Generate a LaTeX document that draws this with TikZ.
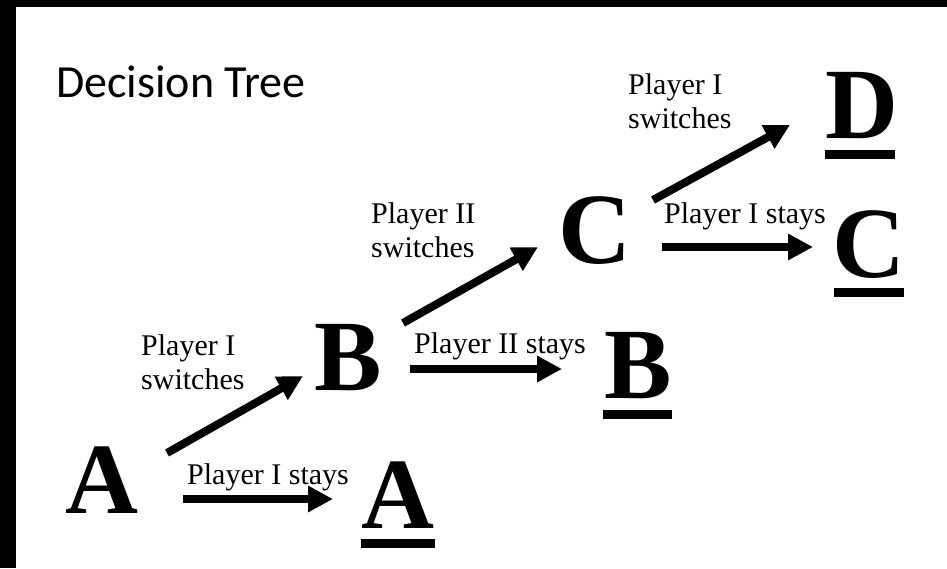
\documentclass[tikz,border=0pt]{standalone}
\usepackage{fontspec}
\setmainfont{Liberation Serif}
\newfontfamily\titlefont{Carlito}
\usetikzlibrary{arrows.meta}
\begin{document}
\begin{tikzpicture}[x=1pt,y=-1pt,
  big/.style={font=\fontsize{101}{101}\selectfont\bfseries, inner sep=0pt, anchor=base},
  lbl/.style={font=\fontsize{30}{34}\selectfont, inner sep=0pt, anchor=base west},
  arr/.style={line width=8pt, -{Triangle[length=25pt,width=25pt]}},
  uline/.style={line width=9pt}]
\fill[black] (0,0) rectangle (947,568);
\fill[white] (16,7) rectangle (947,568);
\useasboundingbox (0,0) rectangle (947,568);
% title
\node[font=\titlefont\fontsize{46}{46}\selectfont, inner sep=0pt, anchor=base west] (title) at (56,97) {Decision Tree};
% letters
\node[big] (A)  at (102,513) {A};
\node[big] (Au) at (398,528) {A};
\node[big] (B)  at (348,390) {B};
\node[big] (Bu) at (638,398) {B};
\node[big] (C)  at (595,263) {C};
\node[big] (Cu) at (869,277) {C};
\node[big] (D)  at (862,138) {D};
% underlines
\coordinate (ua1) at (361,543.5); \coordinate (ua2) at (435,543.5);
\coordinate (ub1) at (603,414);   \coordinate (ub2) at (672,414);
\coordinate (uc1) at (834,292);   \coordinate (uc2) at (904,292);
\coordinate (ud1) at (825,154);   \coordinate (ud2) at (895,154);
\draw[uline] (ua1) -- (ua2);
\draw[uline] (ub1) -- (ub2);
\draw[uline] (uc1) -- (uc2);
\draw[uline] (ud1) -- (ud2);
% arrow ends
\coordinate (a1) at (183,499); \coordinate (a2) at (333,499);
\coordinate (ab1) at (167,453); \coordinate (ab2) at (303,376);
\coordinate (b1) at (410,369); \coordinate (b2) at (562,369);
\coordinate (bc1) at (403,323); \coordinate (bc2) at (538,247);
\coordinate (c1) at (662,247); \coordinate (c2) at (813,247);
\coordinate (cd1) at (653,200); \coordinate (cd2) at (790,125);
\draw[arr] (a1) -- (a2);
\draw[arr] (ab1) -- (ab2);
\draw[arr] (b1) -- (b2);
\draw[arr] (bc1) -- (bc2);
\draw[arr] (c1) -- (c2);
\draw[arr] (cd1) -- (cd2);
% labels
\node[lbl] (l1) at (187,484) {Player I stays};
\node[lbl] (l2) at (414,353) {Player II stays};
\node[lbl] (l3) at (664,223) {Player I stays};
\node[lbl] (l4) at (141,355) {\begin{tabular}[t]{@{}l@{}}Player I\\switches\end{tabular}};
\node[lbl] (l5) at (371,223) {\begin{tabular}[t]{@{}l@{}}Player II\\switches\end{tabular}};
\node[lbl] (l6) at (628,94) {\begin{tabular}[t]{@{}l@{}}Player I\\switches\end{tabular}};
\end{tikzpicture}
\end{document}
